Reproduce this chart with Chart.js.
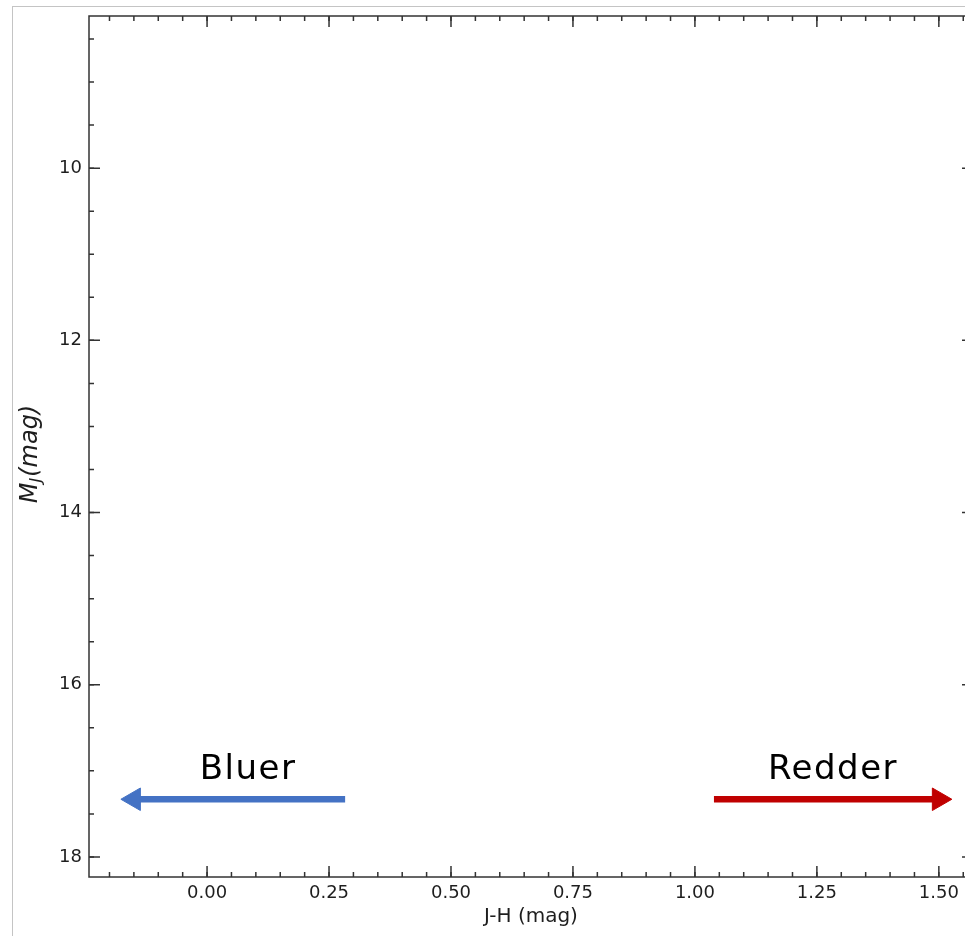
<!DOCTYPE html>
<html>
<head>
<meta charset="utf-8">
<script src="https://cdn.jsdelivr.net/npm/chart.js@4.4.1/dist/chart.umd.min.js"></script>
<style>
  html, body { margin: 0; padding: 0; background: #fff; overflow: hidden; }
  #frame { position: absolute; left: 12px; top: 6px; width: 980px; height: 940px;
           border-top: 1px solid #c4c4c4; border-left: 1px solid #c4c4c4; }
  #wrap { position: absolute; left: 0; top: 0; width: 975px; height: 936px; }
</style>
</head>
<body>
<div id="frame"></div>
<div id="wrap"><canvas id="cmd" width="975" height="936"></canvas></div>
<script>
// axis ranges and tick labels
const xRange = [-0.242, 1.570];
const yRange = [8.233, 18.233];
const xTicks = [0.00, 0.25, 0.50, 0.75, 1.00, 1.25, 1.50];
const yTicks = [10, 12, 14, 16, 18];
const xMinorStep = 0.05;
const yMinorStep = 0.5;

// arrows (tail -> head)
const blueArrowX = [0.283, -0.15];
const blueArrowY = [17.33, 17.33];
const redArrowX = [1.039, 1.50];
const redArrowY = [17.33, 17.33];

// arrow captions
const captionText = ['Bluer', 'Redder'];
const captionX = [0.084, 1.283];
const captionY = [17.09, 17.09];

const pts = (xs, ys) => xs.map((x, i) => ({ x, y: ys[i] }));

// ticks pointing inside, on all four sides, plus spines, captions, y title
const decor = {
    id: 'decor',
    afterDraw(chart) {
        const { ctx, chartArea: a, scales: { x, y } } = chart;
        ctx.save();
        ctx.strokeStyle = '#333';
        ctx.lineWidth = 1.5;
        ctx.strokeRect(a.left, a.top, a.right - a.left, a.bottom - a.top);

        const tick = (px, len, vertical) => {
            ctx.beginPath();
            if (vertical) {
                ctx.moveTo(px, a.bottom); ctx.lineTo(px, a.bottom - len);
                ctx.moveTo(px, a.top); ctx.lineTo(px, a.top + len);
            } else {
                ctx.moveTo(a.left, px); ctx.lineTo(a.left + len, px);
                ctx.moveTo(a.right, px); ctx.lineTo(a.right - len, px);
            }
            ctx.stroke();
        };
        for (let v = Math.ceil(xRange[0] / xMinorStep) * xMinorStep; v <= xRange[1]; v += xMinorStep) {
            tick(x.getPixelForValue(v), 5, true);
        }
        xTicks.forEach(v => tick(x.getPixelForValue(v), 11, true));
        for (let v = Math.ceil(yRange[0] / yMinorStep) * yMinorStep; v <= yRange[1]; v += yMinorStep) {
            tick(y.getPixelForValue(v), 5, false);
        }
        yTicks.forEach(v => tick(y.getPixelForValue(v), 11, false));

        // captions
        ctx.fillStyle = '#000';
        ctx.font = '34px "DejaVu Sans"';
        ctx.letterSpacing = '1.5px';
        ctx.textAlign = 'center';
        ctx.textBaseline = 'alphabetic';
        captionText.forEach((t, i) => {
            ctx.fillText(t, x.getPixelForValue(captionX[i]), y.getPixelForValue(captionY[i]));
        });
        ctx.letterSpacing = '0px';

        // y title M_J(mag)
        ctx.translate(37, (a.top + a.bottom) / 2 + 8);
        ctx.rotate(-Math.PI / 2);
        ctx.fillStyle = '#1e1e1e';
        ctx.textAlign = 'left';
        const big = 'italic 24px "DejaVu Sans"';
        const small = 'italic 16px "DejaVu Sans"';
        ctx.font = big;
        const wM = ctx.measureText('M').width;
        ctx.font = small;
        const wJ = ctx.measureText('J').width;
        ctx.font = big;
        const wRest = ctx.measureText('(mag)').width;
        let sx = -(wM + wJ + wRest) / 2;
        ctx.fillText('M', sx, 0);
        ctx.font = small;
        ctx.fillText('J', sx + wM, 4);
        ctx.font = big;
        ctx.fillText('(mag)', sx + wM + wJ + 1, 0);
        ctx.restore();
    }
};

const arrowSet = (xs, ys, color, rot) => ({
    data: pts(xs, ys),
    borderColor: color,
    backgroundColor: color,
    borderWidth: 6.5,
    borderCapStyle: 'butt',
    pointStyle: 'triangle',
    pointRadius: [0, 13],
    pointRotation: [0, rot],
    pointBackgroundColor: color,
    pointBorderColor: color,
    pointBorderWidth: 1,
    pointHoverRadius: [0, 13]
});

const noPad = s => { s.paddingLeft = 0; s.paddingRight = 0; s.paddingTop = 0; s.paddingBottom = 0; };

new Chart(document.getElementById('cmd'), {
    type: 'line',
    data: {
        datasets: [
            arrowSet(blueArrowX, blueArrowY, '#4472C4', -90),
            arrowSet(redArrowX, redArrowY, '#C00000', 90)
        ]
    },
    options: {
        responsive: false,
        animation: false,
        layout: { autoPadding: false, padding: { top: 16, right: 2, left: 0, bottom: 0 } },
        plugins: { legend: { display: false }, tooltip: { enabled: false } },
        scales: {
            x: {
                type: 'linear',
                min: xRange[0],
                max: xRange[1],
                grid: { display: false, drawTicks: false },
                border: { display: false },
                afterBuildTicks: s => { s.ticks = xTicks.map(v => ({ value: v })); },
                afterFit: s => { s.height = 59; noPad(s); },
                ticks: {
                    padding: 6,
                    color: '#1e1e1e',
                    font: { family: 'DejaVu Sans', size: 18 },
                    callback: v => v.toFixed(2),
                    maxRotation: 0
                },
                title: {
                    display: true,
                    text: 'J-H (mag)',
                    color: '#1e1e1e',
                    font: { family: 'DejaVu Sans', size: 20 },
                    padding: { top: 0, bottom: 7 }
                }
            },
            y: {
                type: 'linear',
                reverse: true,
                min: yRange[0],
                max: yRange[1],
                grid: { display: false, drawTicks: false },
                border: { display: false },
                afterBuildTicks: s => { s.ticks = yTicks.map(v => ({ value: v })); },
                afterFit: s => { s.width = 89; noPad(s); },
                ticks: {
                    padding: 7,
                    color: '#1e1e1e',
                    font: { family: 'DejaVu Sans', size: 18 }
                }
            }
        }
    },
    plugins: [decor]
});
</script>
</body>
</html>
